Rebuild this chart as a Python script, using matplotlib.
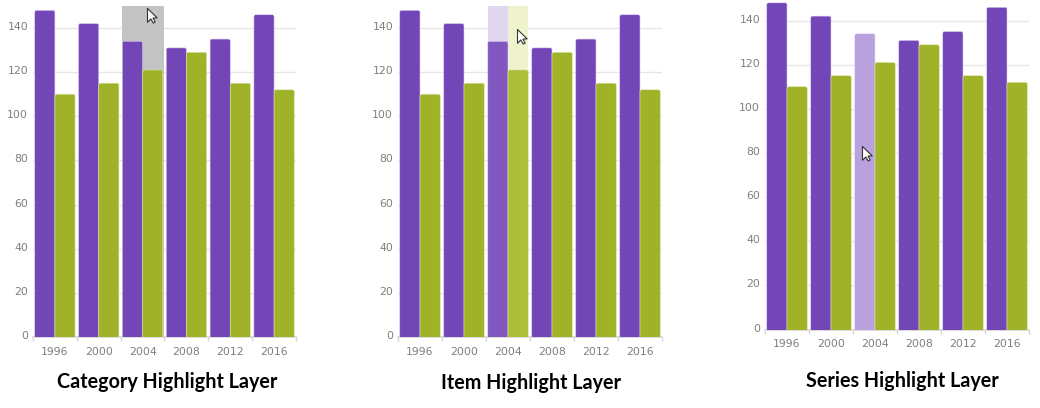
import matplotlib
matplotlib.use('Agg')
import matplotlib.pyplot as plt
from matplotlib.lines import Line2D
from matplotlib.patches import FancyBboxPatch
from matplotlib.transforms import ScaledTranslation
import numpy as np

years = ["1996", "2000", "2004", "2008", "2012", "2016"]
purple_vals = [148, 142, 134, 131, 135, 146]
olive_vals = [110, 115, 121, 129, 115, 112]
y_ticks = [0, 20, 40, 60, 80, 100, 120, 140]
titles = ["Category Highlight Layer", "Item Highlight Layer", "Series Highlight Layer"]

W, H = 1040, 408
PURPLE = '#7346B8'
OLIVE = '#A0B227'
BAR_W = 0.46
cursor = [(0, 0), (0, -1), (0.24, -0.76), (0.42, -1.06), (0.56, -0.98), (0.4, -0.7), (0.7, -0.68), (0, 0)]


def make_axes(fig, left, right, y0):
    # y0 is the pixel row of value 0, 2.207 px per unit
    top = y0 - 150 * 2.207
    ax = fig.add_axes([left / W, 1 - y0 / H, (right - left) / W, (y0 - top) / H])
    ax.set_xlim(-0.5, 5.5)
    ax.set_ylim(0, 150)
    for s in ['top', 'left', 'right']:
        ax.spines[s].set_visible(False)
    ax.spines['bottom'].set_color('#D6D6D6')
    ax.spines['bottom'].set_linewidth(1.2)
    ax.set_yticks(y_ticks)
    ax.set_xticks(np.arange(6))
    ax.set_xticklabels(years)
    ax.set_xticks(np.arange(7) - 0.5, minor=True)
    ax.tick_params(axis='x', which='major', length=0, pad=7, labelsize=7.8, labelcolor='#7F7F7F')
    ax.tick_params(axis='x', which='minor', length=3, width=1, color='#D6D6D6')
    ax.tick_params(axis='y', length=0, pad=3.5, labelsize=7.8, labelcolor='#7F7F7F')
    # y labels sit a little above their grid lines
    shift = ScaledTranslation(0, 2 / 100, fig.dpi_scale_trans)
    for lab in ax.get_yticklabels():
        lab.set_transform(lab.get_transform() + shift)
    ax.grid(axis='y', color='#E6E6E6', lw=1)
    ax.set_axisbelow(True)
    return ax


def round_bar(ax, x, h, color, edge):
    p = FancyBboxPatch((x, -3), BAR_W, h + 3, boxstyle="round,pad=0,rounding_size=0.04",
                       mutation_aspect=20, fc=color, ec=edge, lw=0.4, zorder=3)
    ax.add_patch(p)


def draw_bars(ax, colors_a=None, colors_b=None):
    for i in range(len(years)):
        ca = colors_a[i] if colors_a else PURPLE
        cb = colors_b[i] if colors_b else OLIVE
        round_bar(ax, i - BAR_W, purple_vals[i], ca, '#D9CCEE' if ca == PURPLE else '#E4DAF2')
        round_bar(ax, i, olive_vals[i], cb, '#DDE5AE')


def draw_cursor(fig, px, py):
    fig.add_artist(Line2D([px / W], [1 - py / H], marker=cursor, ms=21, mfc='white', mec='#333333',
                          mew=0.8, ls='none', transform=fig.transFigure))


fig = plt.figure(figsize=(W / 100, H / 100), dpi=100)

# category highlight
ax1 = make_axes(fig, 33, 296, 337)
ax1.axvspan(1.52, 2.49, color='#C3C3C3', lw=0, zorder=1)
draw_bars(ax1)
draw_cursor(fig, 147, 8)

# item highlight
ax2 = make_axes(fig, 398, 662, 337)
ax2.axvspan(2 - BAR_W, 2, color='#E0D6EF', lw=0, zorder=1)
ax2.axvspan(2, 2 + BAR_W, color='#EEF3CE', lw=0, zorder=1)
draw_bars(ax2,
          [PURPLE, PURPLE, '#8058BF', PURPLE, PURPLE, PURPLE],
          [OLIVE, OLIVE, '#ADBF39', OLIVE, OLIVE, OLIVE])
draw_cursor(fig, 517, 29)

# series highlight
ax3 = make_axes(fig, 765, 1029, 329.5)
draw_bars(ax3, [PURPLE, PURPLE, '#B8A1DC', PURPLE, PURPLE, PURPLE])
draw_cursor(fig, 862, 146)

font = dict(family='Lato', weight='bold', size=14.2, color='black', ha='center', va='center')
fig.text(167.5 / W, 1 - 382 / H, titles[0], **font)
fig.text(531 / W, 1 - 383 / H, titles[1], **font)
fig.text(902.5 / W, 1 - 381 / H, titles[2], **font)

fig.savefig('out.png', dpi=100)
